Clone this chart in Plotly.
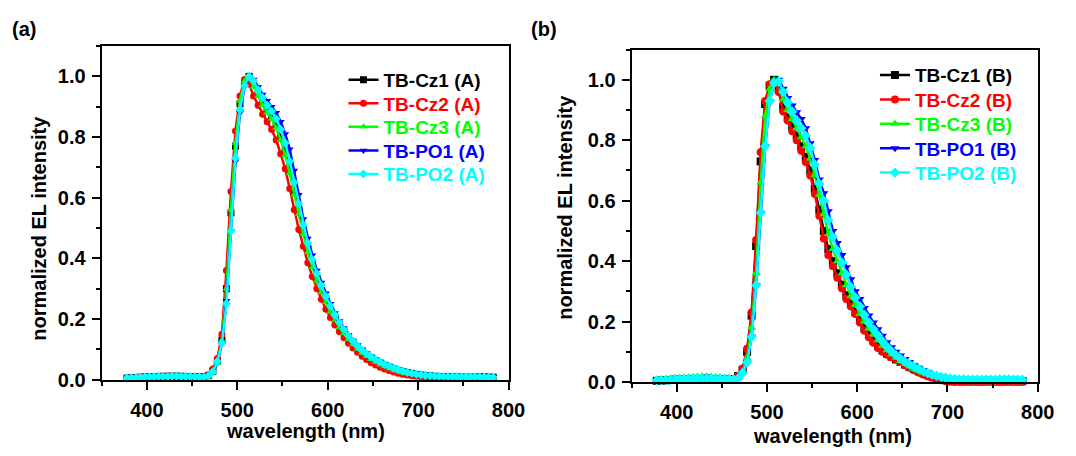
import plotly.graph_objects as go

# ---------------- data ----------------
wavelength = [378, 383, 388, 393, 398, 403, 408, 413, 418, 423, 428, 433, 438, 443, 448, 453, 458, 463,
              468, 473, 478, 483, 488, 493, 498, 503, 508, 513,
              518, 523, 528, 533, 538, 543, 548, 553, 558, 563, 568, 573, 578, 583, 588, 593, 598, 603,
              608, 613, 618, 623, 628, 633, 638, 643, 648,
              653, 658, 663, 668, 673, 678, 683, 688, 693, 698, 703, 708, 713, 718, 723, 728, 733, 738,
              743, 748, 753, 758, 763, 768, 773, 778, 783]

# device set (A)
tb_cz1_A = [0.005, 0.006, 0.007, 0.008, 0.009, 0.009, 0.01, 0.01, 0.011, 0.011, 0.011, 0.011, 0.011, 0.01, 0.01, 0.01, 0.009, 0.009,
            0.013, 0.028, 0.062, 0.13, 0.30, 0.55, 0.77, 0.91, 0.98, 1.0,
            0.975, 0.945, 0.915, 0.89, 0.87, 0.845, 0.805, 0.755, 0.695, 0.625, 0.56, 0.49, 0.43, 0.38, 0.335, 0.296, 0.262, 0.231,
            0.204, 0.18, 0.158, 0.139, 0.121, 0.106, 0.093, 0.081, 0.071,
            0.062, 0.054, 0.047, 0.041, 0.035, 0.03, 0.026, 0.023, 0.02, 0.017, 0.015, 0.013, 0.012, 0.011, 0.01, 0.01, 0.009, 0.009,
            0.009, 0.008, 0.008, 0.008, 0.008, 0.009, 0.009, 0.008, 0.008]
tb_cz2_A = [0.005, 0.006, 0.007, 0.008, 0.009, 0.01, 0.01, 0.011, 0.011, 0.012, 0.012, 0.012, 0.011, 0.011, 0.01, 0.01, 0.01, 0.01,
            0.016, 0.035, 0.07, 0.15, 0.36, 0.62, 0.82, 0.935, 0.99, 0.975,
            0.935, 0.905, 0.875, 0.85, 0.825, 0.79, 0.745, 0.695, 0.63, 0.56, 0.495, 0.44, 0.385, 0.34, 0.30, 0.265, 0.232, 0.205,
            0.18, 0.158, 0.138, 0.12, 0.104, 0.09, 0.077, 0.066, 0.056,
            0.048, 0.041, 0.035, 0.03, 0.025, 0.021, 0.018, 0.015, 0.013, 0.011, 0.01, 0.009, 0.008, 0.008, 0.007, 0.007, 0.007, 0.006,
            0.006, 0.006, 0.007, 0.007, 0.008, 0.008, 0.007, 0.006, 0.006]
tb_cz3_A = [0.004, 0.005, 0.006, 0.007, 0.008, 0.008, 0.009, 0.009, 0.01, 0.01, 0.01, 0.01, 0.01, 0.01, 0.009, 0.009, 0.008, 0.008,
            0.01, 0.024, 0.055, 0.13, 0.30, 0.56, 0.78, 0.92, 0.985, 1.0,
            0.965, 0.935, 0.905, 0.88, 0.86, 0.83, 0.79, 0.74, 0.68, 0.61, 0.545, 0.48, 0.42, 0.37, 0.325, 0.288, 0.255, 0.224,
            0.197, 0.173, 0.152, 0.133, 0.116, 0.101, 0.088, 0.077, 0.067,
            0.058, 0.05, 0.043, 0.037, 0.032, 0.027, 0.023, 0.02, 0.018, 0.016, 0.014, 0.012, 0.011, 0.01, 0.009, 0.008, 0.008, 0.008,
            0.007, 0.007, 0.007, 0.007, 0.008, 0.008, 0.007, 0.007, 0.007]
tb_po1_A = [0.005, 0.006, 0.007, 0.008, 0.009, 0.009, 0.01, 0.01, 0.01, 0.011, 0.011, 0.011, 0.011, 0.01, 0.01, 0.009, 0.009, 0.008,
            0.011, 0.024, 0.055, 0.12, 0.26, 0.49, 0.72, 0.88, 0.965, 1.0,
            0.99, 0.965, 0.94, 0.92, 0.90, 0.88, 0.85, 0.81, 0.76, 0.69, 0.61, 0.53, 0.465, 0.41, 0.36, 0.32, 0.285, 0.25,
            0.22, 0.193, 0.17, 0.148, 0.13, 0.114, 0.1, 0.088, 0.077,
            0.068, 0.06, 0.052, 0.045, 0.039, 0.034, 0.029, 0.025, 0.021, 0.018, 0.016, 0.014, 0.013, 0.012, 0.011, 0.011, 0.01, 0.01,
            0.01, 0.009, 0.009, 0.009, 0.009, 0.01, 0.01, 0.009, 0.009]
tb_po2_A = [0.005, 0.006, 0.007, 0.008, 0.009, 0.009, 0.01, 0.01, 0.01, 0.01, 0.011, 0.011, 0.01, 0.01, 0.01, 0.009, 0.009, 0.008,
            0.012, 0.026, 0.06, 0.12, 0.25, 0.49, 0.73, 0.89, 0.97, 1.0,
            0.985, 0.955, 0.93, 0.905, 0.885, 0.86, 0.825, 0.78, 0.72, 0.65, 0.58, 0.51, 0.45, 0.395, 0.35, 0.31, 0.275, 0.243,
            0.214, 0.188, 0.165, 0.145, 0.127, 0.111, 0.097, 0.085, 0.075,
            0.066, 0.058, 0.05, 0.044, 0.038, 0.033, 0.028, 0.024, 0.021, 0.018, 0.016, 0.014, 0.013, 0.012, 0.011, 0.011, 0.01, 0.01,
            0.01, 0.009, 0.009, 0.009, 0.009, 0.009, 0.009, 0.008, 0.008]

# device set (B)
tb_cz1_B = [0.004, 0.005, 0.006, 0.007, 0.008, 0.008, 0.009, 0.009, 0.01, 0.01, 0.01, 0.01, 0.01, 0.01, 0.009, 0.009, 0.009, 0.009,
            0.02, 0.04, 0.1, 0.22, 0.45, 0.73, 0.92, 0.98, 1.0, 0.97,
            0.91, 0.875, 0.845, 0.815, 0.78, 0.745, 0.70, 0.64, 0.57, 0.50, 0.44, 0.40, 0.36, 0.322, 0.287, 0.258, 0.232, 0.205,
            0.178, 0.156, 0.137, 0.12, 0.105, 0.094, 0.084, 0.075, 0.067,
            0.058, 0.05, 0.043, 0.036, 0.03, 0.024, 0.019, 0.015, 0.011, 0.008, 0.006, 0.005, 0.005, 0.004, 0.004, 0.004, 0.003, 0.003,
            0.004, 0.004, 0.003, 0.003, 0.003, 0.004, 0.004, 0.003, 0.003]
tb_cz2_B = [0.004, 0.005, 0.006, 0.007, 0.008, 0.008, 0.009, 0.009, 0.01, 0.01, 0.01, 0.01, 0.01, 0.009, 0.009, 0.009, 0.008, 0.008,
            0.02, 0.045, 0.11, 0.23, 0.47, 0.76, 0.93, 0.985, 0.995, 0.96,
            0.895, 0.865, 0.83, 0.80, 0.765, 0.728, 0.683, 0.622, 0.55, 0.475, 0.42, 0.383, 0.345, 0.31, 0.275, 0.25, 0.225, 0.197,
            0.17, 0.148, 0.13, 0.113, 0.10, 0.09, 0.082, 0.074, 0.066,
            0.056, 0.047, 0.039, 0.032, 0.025, 0.019, 0.014, 0.01, 0.006, 0.003, 0.001, 0.0, 0.0, 0.0, 0.0, 0.0, 0.0, 0.0,
            0.0, 0.0, 0.0, 0.0, 0.0, 0.0, 0.0, 0.0, 0.0]
tb_cz3_B = [0.005, 0.008, 0.01, 0.012, 0.013, 0.014, 0.015, 0.016, 0.017, 0.018, 0.019, 0.019, 0.018, 0.017, 0.016, 0.015, 0.014, 0.012,
            0.015, 0.035, 0.08, 0.18, 0.36, 0.66, 0.88, 0.97, 1.0, 0.985,
            0.935, 0.90, 0.87, 0.84, 0.81, 0.78, 0.74, 0.685, 0.62, 0.555, 0.49, 0.44, 0.40, 0.36, 0.32, 0.285, 0.255, 0.225,
            0.20, 0.177, 0.157, 0.138, 0.12, 0.105, 0.092, 0.08, 0.07,
            0.06, 0.052, 0.044, 0.037, 0.031, 0.026, 0.021, 0.017, 0.014, 0.011, 0.009, 0.008, 0.007, 0.007, 0.006, 0.006, 0.006, 0.006,
            0.006, 0.006, 0.006, 0.007, 0.007, 0.007, 0.006, 0.006, 0.006]
tb_po1_B = [0.005, 0.007, 0.008, 0.009, 0.01, 0.011, 0.012, 0.013, 0.014, 0.015, 0.017, 0.018, 0.016, 0.015, 0.014, 0.013, 0.012, 0.01,
            0.012, 0.03, 0.065, 0.15, 0.32, 0.56, 0.78, 0.93, 0.99, 1.0,
            0.97, 0.94, 0.915, 0.893, 0.87, 0.84, 0.79, 0.735, 0.67, 0.625, 0.565, 0.50, 0.46, 0.42, 0.38, 0.34, 0.30, 0.275,
            0.245, 0.22, 0.197, 0.175, 0.153, 0.132, 0.115, 0.10, 0.088,
            0.076, 0.066, 0.056, 0.047, 0.04, 0.033, 0.027, 0.022, 0.018, 0.015, 0.012, 0.01, 0.009, 0.008, 0.008, 0.008, 0.008, 0.008,
            0.008, 0.008, 0.008, 0.008, 0.009, 0.009, 0.008, 0.008, 0.008]
tb_po2_B = [0.005, 0.006, 0.007, 0.008, 0.009, 0.01, 0.01, 0.011, 0.011, 0.012, 0.012, 0.012, 0.012, 0.011, 0.011, 0.01, 0.01, 0.009,
            0.012, 0.03, 0.065, 0.15, 0.32, 0.56, 0.78, 0.93, 0.99, 0.995,
            0.96, 0.925, 0.895, 0.865, 0.84, 0.815, 0.775, 0.72, 0.655, 0.60, 0.535, 0.48, 0.435, 0.395, 0.355, 0.315, 0.28, 0.25,
            0.222, 0.197, 0.175, 0.155, 0.135, 0.117, 0.102, 0.089, 0.077,
            0.067, 0.058, 0.05, 0.043, 0.036, 0.03, 0.025, 0.021, 0.017, 0.014, 0.012, 0.01, 0.009, 0.009, 0.008, 0.008, 0.008, 0.008,
            0.008, 0.008, 0.008, 0.009, 0.009, 0.009, 0.008, 0.008, 0.008]

names_A = ["TB-Cz1 (A)", "TB-Cz2 (A)", "TB-Cz3 (A)", "TB-PO1 (A)", "TB-PO2 (A)"]
names_B = ["TB-Cz1 (B)", "TB-Cz2 (B)", "TB-Cz3 (B)", "TB-PO1 (B)", "TB-PO2 (B)"]
series_A = [tb_cz1_A, tb_cz2_A, tb_cz3_A, tb_po1_A, tb_po2_A]
series_B = [tb_cz1_B, tb_cz2_B, tb_cz3_B, tb_po1_B, tb_po2_B]

x_ticks = [400, 500, 600, 700, 800]
y_ticks = [0.0, 0.2, 0.4, 0.6, 0.8, 1.0]
x_title = "wavelength (nm)"
y_title = "normalized EL intensity"
panel_labels = ["(a)", "(b)"]

# ---------------- style ----------------
colors = ["#000000", "#FF0000", "#00FF00", "#0000FF", "#00FFFF"]
symbols = ["square", "circle", "triangle-up", "triangle-down", "diamond"]
FONT = "Liberation Sans, Arial, sans-serif"
W, H = 1076, 456

# legend row positions (pixels from top) and left edge of each legend block
legend_rows_A = [82, 106, 130, 154.5, 178.5]
legend_rows_B = [77, 102, 127, 152, 177]
legend_left_A = 349
legend_left_B = 889

for s in series_A + series_B:
    assert len(s) == len(wavelength)

fig = go.Figure()
legend_layout = {}

def add_set(names, series, xa, ya, first_legend, rows, left, msize):
    for i, (nm, ys) in enumerate(zip(names, series)):
        k = first_legend + i
        key = "legend" if k == 1 else f"legend{k}"
        fig.add_trace(go.Scatter(
            x=wavelength, y=ys, mode="lines+markers",
            name=f"<span style='color:{colors[i]}'>{nm}</span>",
            line=dict(color=colors[i], width=2.5),
            marker=dict(symbol=symbols[i], size=msize, color=colors[i], line=dict(width=0)),
            xaxis=xa, yaxis=ya, legend=key, cliponaxis=False,
        ))
        legend_layout[key] = dict(
            font=dict(family=FONT, size=19, color="black", weight="bold"),
            bgcolor="rgba(0,0,0,0)", borderwidth=0, tracegroupgap=0,
            xanchor="left", yanchor="middle", itemclick=False, itemdoubleclick=False,
            x=left / W, y=1 - rows[i] / H,
        )

add_set(names_A, series_A, "x", "y", 1, legend_rows_A, legend_left_A, 7)
add_set(names_B, series_B, "x2", "y2", 6, legend_rows_B, legend_left_B, 8)

axis_common = dict(
    showline=True, linecolor="black", linewidth=2, mirror=True,
    ticks="outside", ticklen=8, tickwidth=2, tickcolor="black",
    showgrid=False, zeroline=False,
    tickfont=dict(family=FONT, size=20, color="black", weight="bold"),
)
xcommon = dict(axis_common, range=[350, 800], tickvals=x_ticks, ticklabelstandoff=3,
               minor=dict(ticks="outside", ticklen=4, tickwidth=2, tickcolor="black", dtick=50, tick0=0, showgrid=False))
ycommon = dict(axis_common, range=[0, 1.1], tickvals=y_ticks, tickformat=".1f", ticklabelstandoff=2,
               minor=dict(ticks="outside", ticklen=4, tickwidth=2, tickcolor="black", dtick=0.1, tick0=0, showgrid=False))

title_font = dict(family=FONT, size=20, color="black", weight="bold")

def px_ann(text, x, y, angle=0, xanchor="center"):
    return dict(text=text, x=x / W, y=1 - y / H, xref="paper", yref="paper", showarrow=False,
                textangle=angle, xanchor=xanchor, yanchor="middle", font=title_font)

annotations = [
    px_ann(panel_labels[0], 24, 30),
    px_ann(panel_labels[1], 553, 30),
    px_ann(x_title, 310, 442),
    px_ann(x_title, 846, 447),
    px_ann(y_title, 40, 234, angle=-90),
    px_ann(y_title, 574, 212, angle=-90),
]

fig.update_layout(
    width=W, height=H,
    margin=dict(l=0, r=0, t=0, b=0),
    paper_bgcolor="white", plot_bgcolor="white",
    showlegend=True,
    xaxis=dict(xcommon, domain=[0.096, 0.4802], anchor="y"),
    yaxis=dict(ycommon, domain=[1 - 389 / H, 1 - 47.2 / H], anchor="x"),
    xaxis2=dict(xcommon, domain=[0.5964, 0.9799], anchor="y2"),
    yaxis2=dict(ycommon, domain=[1 - 391.5 / H, 1 - 50.8 / H], anchor="x2"),
    annotations=annotations,
    **legend_layout,
)

fig.write_html("out.html", config={"displayModeBar": False},
               post_script="document.body.style.margin='0px';")
